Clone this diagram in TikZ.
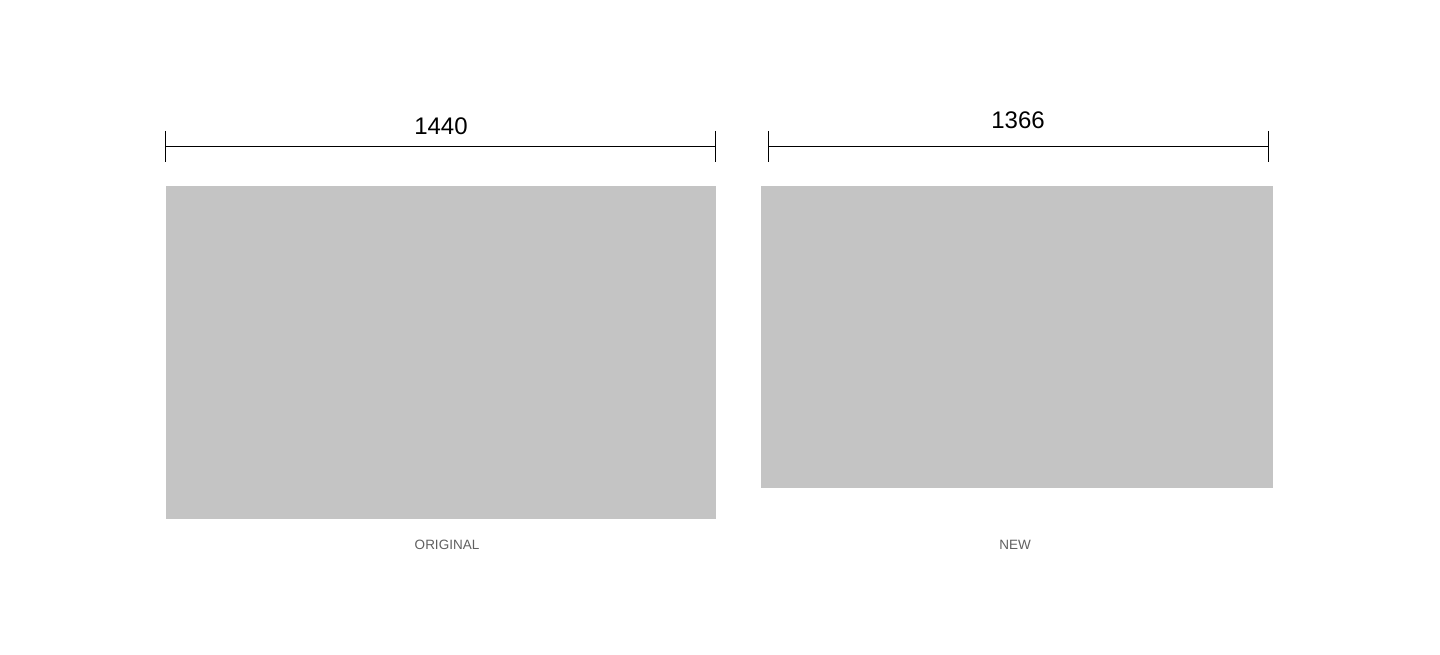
\documentclass[tikz,border=0pt]{standalone}
\usepackage{fontspec}
\setmainfont{Liberation Sans}
\definecolor{boxgray}{HTML}{C4C4C4}
\definecolor{labgray}{HTML}{606060}
\begin{document}
\begin{tikzpicture}[x=1pt,y=-1pt,
  screen/.style={fill=boxgray,draw=none},
  dimline/.style={draw=black,line width=1pt},
  dimtext/.style={font=\fontsize{24}{24}\selectfont,text=black,inner sep=0pt},
  caption/.style={font=\fontsize{13.5}{13.5}\selectfont,text=labgray,inner sep=0pt}]
\useasboundingbox (0,0) rectangle (1440,655);
% screens
\fill[screen] (166,186) rectangle (716,519);
\fill[screen] (761,186) rectangle (1273,488);
% left dimension
\coordinate (la) at (165.5,146.5);
\coordinate (lb) at (715.5,146.5);
\draw[dimline] (la) -- (lb);
\draw[dimline] (165.5,131) -- (165.5,162);
\draw[dimline] (715.5,131) -- (715.5,162);
\node[dimtext] (t1) at (441,126) {1440};
% right dimension
\coordinate (ra) at (768.5,146.5);
\coordinate (rb) at (1268.5,146.5);
\draw[dimline] (ra) -- (rb);
\draw[dimline] (768.5,131) -- (768.5,162);
\draw[dimline] (1268.5,131) -- (1268.5,162);
\node[dimtext] (t2) at (1018,120) {1366};
% captions
\node[caption] (c1) at (447,544.5) {ORIGINAL};
\node[caption] (c2) at (1015,544.5) {NEW};
\end{tikzpicture}
\end{document}
